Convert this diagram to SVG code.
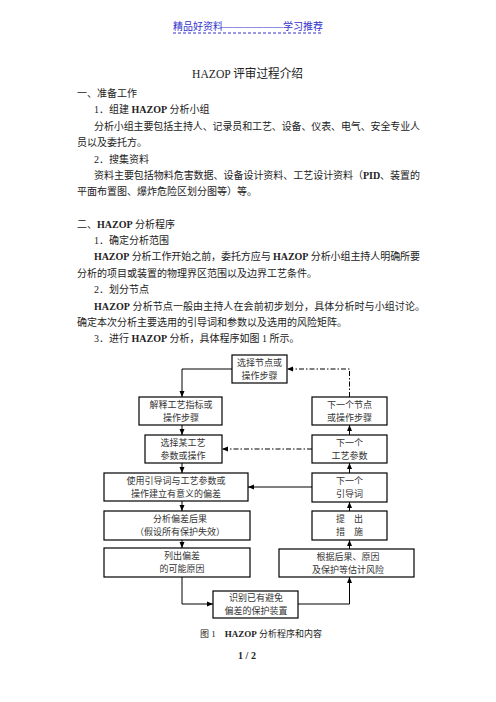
<svg xmlns="http://www.w3.org/2000/svg" width="496" height="702" viewBox="0 0 496 702">
<style>
text{font-family:"Liberation Serif","Noto Sans CJK SC",serif;fill:#222}
.b{font-size:10px}
.bx{font-size:9px;text-anchor:middle;fill:#333}
.hz{font-weight:bold}
rect.n{fill:#fff;stroke:#000;stroke-width:1.2}
.c path{fill:none;stroke:#000;stroke-width:1}
.dd{stroke-dasharray:5 2 1.5 2}
</style>
<defs>
<marker id="ah" viewBox="0 0 6 6" refX="6" refY="3" markerWidth="6" markerHeight="6" markerUnits="userSpaceOnUse" orient="auto">
<path d="M0,0.5 L6,3 L0,5.5 z" fill="#000"/>
</marker>
</defs>
<rect width="496" height="702" fill="#fff"/>
<g id="header">
<text x="248" y="30" text-anchor="middle" font-size="10.5" style="fill:#3333cc" textLength="150" lengthAdjust="spacingAndGlyphs">精品好资料——————学习推荐</text>
<line x1="173" y1="33" x2="323" y2="33" stroke="#3333cc" stroke-width="1" stroke-dasharray="3 2"/>
</g>
<g id="body">
<text x="192" y="77.5" font-size="12.5" textLength="111" lengthAdjust="spacingAndGlyphs">HAZOP 评审过程介绍</text>
<text class="b" x="77" y="97">一、准备工作</text>
<text class="b" x="94" y="113.4">1．组建 <tspan class="hz">HAZOP</tspan> 分析小组</text>
<text class="b" x="94" y="129.8" textLength="326" lengthAdjust="spacing">分析小组主要包括主持人、记录员和工艺、设备、仪表、电气、安全专业人</text>
<text class="b" x="77" y="146.2">员以及委托方。</text>
<text class="b" x="94" y="162.6">2．搜集资料</text>
<text class="b" x="94" y="179" textLength="326" lengthAdjust="spacing">资料主要包括物料危害数据、设备设计资料、工艺设计资料（<tspan class="hz">PID</tspan>、装置的</text>
<text class="b" x="77" y="195.4">平面布置图、爆炸危险区划分图等）等。</text>
<text class="b" x="77" y="227.6">二、<tspan class="hz">HAZOP</tspan> 分析程序</text>
<text class="b" x="94" y="244">1．确定分析范围</text>
<text class="b" x="94" y="260.4" textLength="326" lengthAdjust="spacing"><tspan class="hz">HAZOP</tspan> 分析工作开始之前，委托方应与 <tspan class="hz">HAZOP</tspan> 分析小组主持人明确所要</text>
<text class="b" x="77" y="276.8">分析的项目或装置的物理界区范围以及边界工艺条件。</text>
<text class="b" x="94" y="293.2">2．划分节点</text>
<text class="b" x="94" y="309.6" textLength="331" lengthAdjust="spacing"><tspan class="hz">HAZOP</tspan> 分析节点一般由主持人在会前初步划分，具体分析时与小组讨论。</text>
<text class="b" x="77" y="326">确定本次分析主要选用的引导词和参数以及选用的风险矩阵。</text>
<text class="b" x="94" y="342.4">3．进行 <tspan class="hz">HAZOP</tspan> 分析，具体程序如图 1 所示。</text>
</g>
<g id="connectors" class="c">
<path d="M232,369 H182 V397" marker-end="url(#ah)"/>
<path d="M182,425 V435" marker-end="url(#ah)"/>
<path d="M182,463 V473" marker-end="url(#ah)"/>
<path d="M182,501 V511" marker-end="url(#ah)"/>
<path d="M182,540 V548" marker-end="url(#ah)"/>
<path d="M182,577 V604 H213" marker-end="url(#ah)"/>
<path d="M298,604 H349.5 V577" marker-end="url(#ah)"/>
<path d="M349.5,549 V540" marker-end="url(#ah)"/>
<path d="M349.5,511 V502" marker-end="url(#ah)"/>
<path d="M349.5,473 V463" marker-end="url(#ah)"/>
<path d="M349.5,435 V425" marker-end="url(#ah)"/>
<path class="dd" d="M349.5,397 V369 H287" marker-end="url(#ah)"/>
<path class="dd" d="M312,449 H222" marker-end="url(#ah)"/>
<path d="M312,487 H248" marker-end="url(#ah)"/>
</g>
<g id="n1"><rect class="n" x="232" y="355" width="55" height="28"/><text class="bx" x="259.5" y="365.7">选择节点或</text><text class="bx" x="259.5" y="378.7">操作步骤</text></g>
<g id="n2"><rect class="n" x="139" y="397" width="83" height="28"/><text class="bx" x="181" y="407.7">解释工艺指标或</text><text class="bx" x="181" y="420.7">操作步骤</text></g>
<g id="n3"><rect class="n" x="145" y="435" width="77" height="28"/><text class="bx" x="183" y="445.7">选择某工艺</text><text class="bx" x="183" y="458.7">参数或操作</text></g>
<g id="n4"><rect class="n" x="104" y="473" width="144" height="28"/><text class="bx" x="176" y="483.7">使用引导词与工艺参数或</text><text class="bx" x="176" y="496.7">操作建立有意义的偏差</text></g>
<g id="n5"><rect class="n" x="104" y="511" width="146" height="29"/><text class="bx" x="180" y="522.2">分析偏差后果</text><text class="bx" x="180" y="535.2">（假设所有保护失效）</text></g>
<g id="n6"><rect class="n" x="104" y="548" width="146" height="29"/><text class="bx" x="182" y="559.2">列出偏差</text><text class="bx" x="182" y="572.2">的可能原因</text></g>
<g id="n7"><rect class="n" x="213" y="591" width="85" height="27"/><text class="bx" x="256" y="601.2">识别已有避免</text><text class="bx" x="256" y="614.2">偏差的保护装置</text></g>
<g id="n8"><rect class="n" x="279" y="549" width="135" height="28"/><text class="bx" x="348" y="559.7">根据后果、原因</text><text class="bx" x="348" y="572.7">及保护等估计风险</text></g>
<g id="n9"><rect class="n" x="312" y="511" width="75" height="29"/><text class="bx" x="349.5" y="522.2">提　出</text><text class="bx" x="349.5" y="535.2">措　施</text></g>
<g id="n10"><rect class="n" x="312" y="473" width="75" height="29"/><text class="bx" x="349.5" y="484.2">下一个</text><text class="bx" x="349.5" y="497.2">引导词</text></g>
<g id="n11"><rect class="n" x="312" y="435" width="75" height="28"/><text class="bx" x="349.5" y="445.7">下一个</text><text class="bx" x="349.5" y="458.7">工艺参数</text></g>
<g id="n12"><rect class="n" x="312" y="397" width="75" height="28"/><text class="bx" x="349.5" y="407.7">下一个节点</text><text class="bx" x="349.5" y="420.7">或操作步骤</text></g>
<g id="caption">
<text x="200" y="636.5" font-size="9">图 1　<tspan class="hz">HAZOP</tspan> 分析程序和内容</text>
<text x="247" y="658.5" font-size="10" text-anchor="middle" class="hz">1 / 2</text>
</g>
</svg>
